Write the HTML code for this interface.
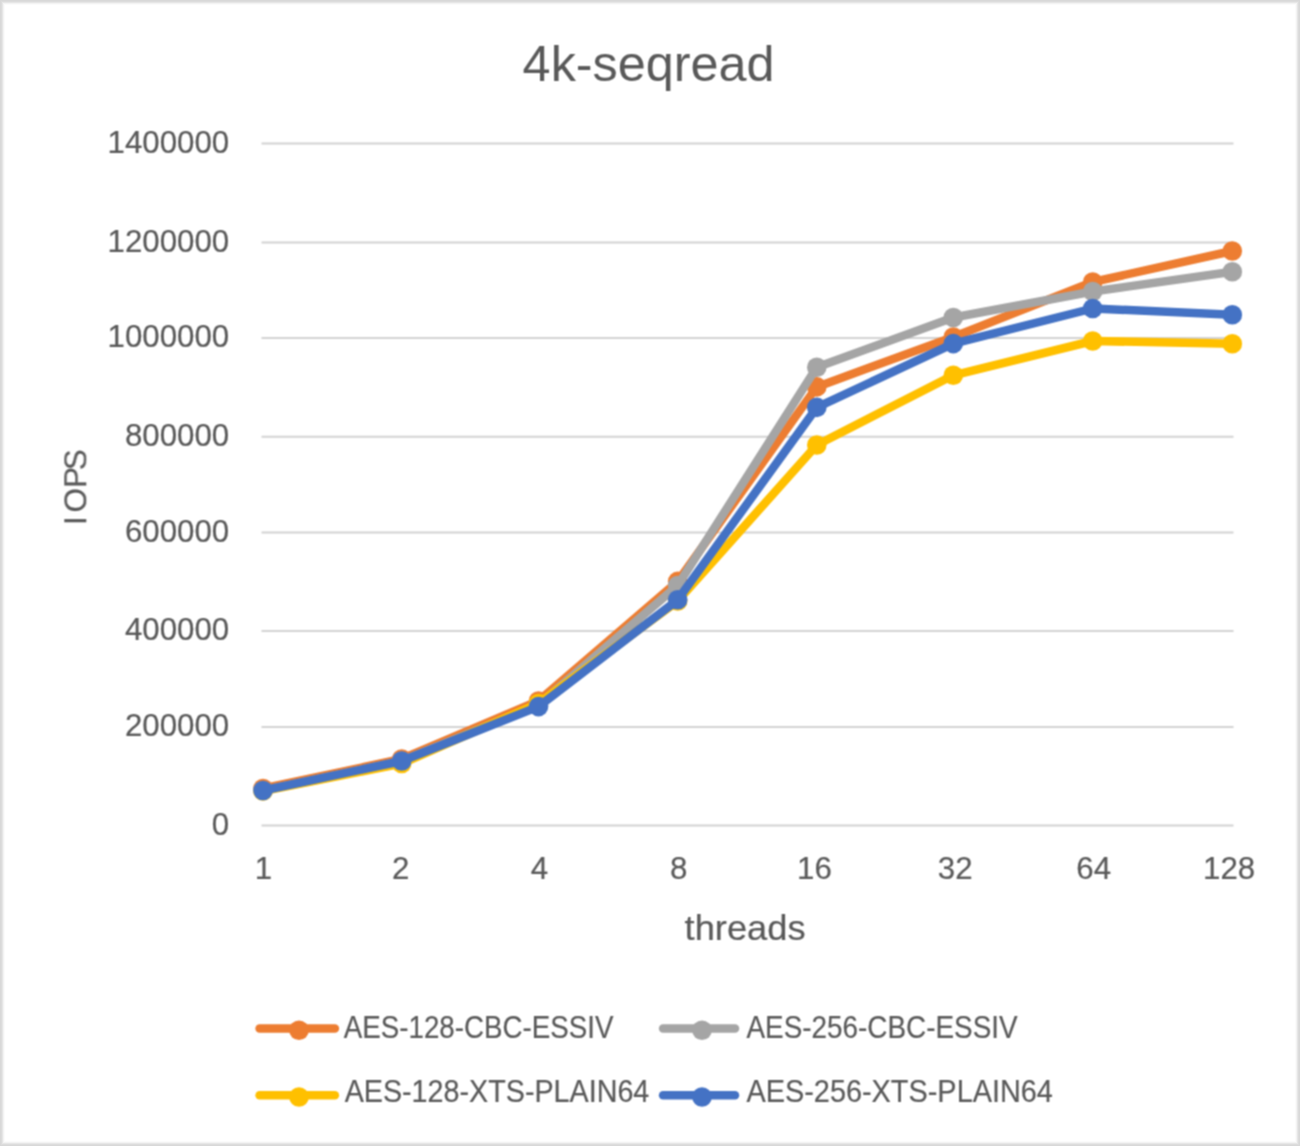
<!DOCTYPE html><html><head><meta charset="utf-8"><title>4k-seqread</title><style>
html,body{margin:0;padding:0;background:#fff;}
body{width:1300px;height:1146px;overflow:hidden;position:relative;}
.frame{position:absolute;left:0;top:0;width:1300px;height:1146px;box-sizing:border-box;box-shadow:inset 0 0 0 1px #d8d8d8,inset 0 0 0 2px #dcdcdc,inset 0 0 0 3px #e6e6e6,inset 0 0 0 4px #f3f3f3,inset 0 0 0 5px #fbfbfb;}
svg{position:absolute;left:0;top:0;}
text{font-family:"Liberation Sans", Arial, sans-serif;fill:#595959;stroke:#595959;stroke-width:0.2px;}
</style></head><body>
<svg width="1300" height="1146" viewBox="0 0 1300 1146">
<defs><filter id="soft" x="0" y="0" width="1300" height="1146" filterUnits="userSpaceOnUse" color-interpolation-filters="sRGB"><feConvolveMatrix order="3" kernelMatrix="1 2 1 2 4 2 1 2 1" divisor="16" edgeMode="none" preserveAlpha="false"/></filter></defs>
<g filter="url(#soft)">
<line x1="261.5" y1="143.6" x2="1233.5" y2="143.6" stroke="#d2d2d2" stroke-width="2"/>
<line x1="261.5" y1="242.5" x2="1233.5" y2="242.5" stroke="#d2d2d2" stroke-width="2"/>
<line x1="261.5" y1="338.1" x2="1233.5" y2="338.1" stroke="#d2d2d2" stroke-width="2"/>
<line x1="261.5" y1="436.7" x2="1233.5" y2="436.7" stroke="#d2d2d2" stroke-width="2"/>
<line x1="261.5" y1="532.5" x2="1233.5" y2="532.5" stroke="#d2d2d2" stroke-width="2"/>
<line x1="261.5" y1="631.1" x2="1233.5" y2="631.1" stroke="#d2d2d2" stroke-width="2"/>
<line x1="261.5" y1="726.9" x2="1233.5" y2="726.9" stroke="#d2d2d2" stroke-width="2"/>
<line x1="261.5" y1="825.5" x2="1233.5" y2="825.5" stroke="#d2d2d2" stroke-width="2"/>
<text x="522.64" y="80.80" font-size="49.50" textLength="251.90" lengthAdjust="spacingAndGlyphs" style="stroke-width:0;fill:#595959">4k-seqread</text>
<text x="107.52" y="152.80" font-size="32" textLength="121.70" lengthAdjust="spacingAndGlyphs">1400000</text>
<text x="107.52" y="251.70" font-size="32" textLength="121.70" lengthAdjust="spacingAndGlyphs">1200000</text>
<text x="107.52" y="347.30" font-size="32" textLength="121.70" lengthAdjust="spacingAndGlyphs">1000000</text>
<text x="124.90" y="445.90" font-size="32" textLength="104.32" lengthAdjust="spacingAndGlyphs">800000</text>
<text x="124.90" y="541.70" font-size="32" textLength="104.32" lengthAdjust="spacingAndGlyphs">600000</text>
<text x="124.90" y="640.30" font-size="32" textLength="104.32" lengthAdjust="spacingAndGlyphs">400000</text>
<text x="124.90" y="736.10" font-size="32" textLength="104.32" lengthAdjust="spacingAndGlyphs">200000</text>
<text x="211.84" y="834.70" font-size="32" textLength="17.39" lengthAdjust="spacingAndGlyphs">0</text>
<text x="254.78" y="879" font-size="32" textLength="17.39" lengthAdjust="spacingAndGlyphs">1</text>
<text x="392.01" y="879" font-size="32" textLength="17.39" lengthAdjust="spacingAndGlyphs">2</text>
<text x="530.81" y="879" font-size="32" textLength="17.39" lengthAdjust="spacingAndGlyphs">4</text>
<text x="670.11" y="879" font-size="32" textLength="17.39" lengthAdjust="spacingAndGlyphs">8</text>
<text x="797.11" y="879" font-size="32" textLength="34.77" lengthAdjust="spacingAndGlyphs">16</text>
<text x="937.80" y="879" font-size="32" textLength="34.77" lengthAdjust="spacingAndGlyphs">32</text>
<text x="1076.28" y="879" font-size="32" textLength="34.77" lengthAdjust="spacingAndGlyphs">64</text>
<text x="1203.01" y="879" font-size="32" textLength="52.16" lengthAdjust="spacingAndGlyphs">128</text>
<text x="684.55" y="939.80" font-size="35.60" textLength="121.06" lengthAdjust="spacingAndGlyphs">threads</text>
<text transform="translate(86.3,530.00) rotate(-90)" x="5.12 17.56 41.93 59.80" y="0" font-size="31.5">IOPS</text>
<polyline points="263.0,788.5 401.7,759.0 538.5,701.0 677.7,581.4 816.8,386.9 953.3,337.0 1092.7,282.0 1232.3,251.0" fill="none" stroke="#ED7D31" stroke-width="8.5" stroke-linejoin="round" stroke-linecap="round"/>
<circle cx="263.0" cy="788.5" r="9.8" fill="#ED7D31"/>
<circle cx="401.7" cy="759.0" r="9.8" fill="#ED7D31"/>
<circle cx="538.5" cy="701.0" r="9.8" fill="#ED7D31"/>
<circle cx="677.7" cy="581.4" r="9.8" fill="#ED7D31"/>
<circle cx="816.8" cy="386.9" r="9.8" fill="#ED7D31"/>
<circle cx="953.3" cy="337.0" r="9.8" fill="#ED7D31"/>
<circle cx="1092.7" cy="282.0" r="9.8" fill="#ED7D31"/>
<circle cx="1232.3" cy="251.0" r="9.8" fill="#ED7D31"/>
<polyline points="263.0,790.5 401.7,761.0 538.5,705.0 677.7,585.5 816.8,367.2 953.3,317.5 1092.7,291.5 1232.3,271.7" fill="none" stroke="#A5A5A5" stroke-width="8.5" stroke-linejoin="round" stroke-linecap="round"/>
<circle cx="263.0" cy="790.5" r="9.8" fill="#A5A5A5"/>
<circle cx="401.7" cy="761.0" r="9.8" fill="#A5A5A5"/>
<circle cx="538.5" cy="705.0" r="9.8" fill="#A5A5A5"/>
<circle cx="677.7" cy="585.5" r="9.8" fill="#A5A5A5"/>
<circle cx="816.8" cy="367.2" r="9.8" fill="#A5A5A5"/>
<circle cx="953.3" cy="317.5" r="9.8" fill="#A5A5A5"/>
<circle cx="1092.7" cy="291.5" r="9.8" fill="#A5A5A5"/>
<circle cx="1232.3" cy="271.7" r="9.8" fill="#A5A5A5"/>
<polyline points="263.0,791.0 401.7,763.5 538.5,703.5 677.7,601.0 816.8,445.0 953.3,375.3 1092.7,341.0 1232.3,343.7" fill="none" stroke="#FFC000" stroke-width="8.5" stroke-linejoin="round" stroke-linecap="round"/>
<circle cx="263.0" cy="791.0" r="9.8" fill="#FFC000"/>
<circle cx="401.7" cy="763.5" r="9.8" fill="#FFC000"/>
<circle cx="538.5" cy="703.5" r="9.8" fill="#FFC000"/>
<circle cx="677.7" cy="601.0" r="9.8" fill="#FFC000"/>
<circle cx="816.8" cy="445.0" r="9.8" fill="#FFC000"/>
<circle cx="953.3" cy="375.3" r="9.8" fill="#FFC000"/>
<circle cx="1092.7" cy="341.0" r="9.8" fill="#FFC000"/>
<circle cx="1232.3" cy="343.7" r="9.8" fill="#FFC000"/>
<polyline points="263.0,790.5 401.7,761.0 538.5,706.6 677.7,599.8 816.8,407.4 953.3,343.6 1092.7,308.5 1232.3,314.8" fill="none" stroke="#4472C4" stroke-width="8.5" stroke-linejoin="round" stroke-linecap="round"/>
<circle cx="263.0" cy="790.5" r="9.8" fill="#4472C4"/>
<circle cx="401.7" cy="761.0" r="9.8" fill="#4472C4"/>
<circle cx="538.5" cy="706.6" r="9.8" fill="#4472C4"/>
<circle cx="677.7" cy="599.8" r="9.8" fill="#4472C4"/>
<circle cx="816.8" cy="407.4" r="9.8" fill="#4472C4"/>
<circle cx="953.3" cy="343.6" r="9.8" fill="#4472C4"/>
<circle cx="1092.7" cy="308.5" r="9.8" fill="#4472C4"/>
<circle cx="1232.3" cy="314.8" r="9.8" fill="#4472C4"/>
<line x1="259.6" y1="1028.4" x2="334.9" y2="1028.4" stroke="#ED7D31" stroke-width="8.5" stroke-linecap="round"/>
<circle cx="299.0" cy="1030.2" r="9.8" fill="#ED7D31"/>
<text x="343.75" y="1038.00" font-size="31.50" textLength="269.68" lengthAdjust="spacingAndGlyphs">AES-128-CBC-ESSIV</text>
<line x1="663.1" y1="1028.4" x2="735.0" y2="1028.4" stroke="#A5A5A5" stroke-width="8.5" stroke-linecap="round"/>
<circle cx="702.0" cy="1030.2" r="9.8" fill="#A5A5A5"/>
<text x="746.45" y="1038.00" font-size="31.50" textLength="271.18" lengthAdjust="spacingAndGlyphs">AES-256-CBC-ESSIV</text>
<line x1="259.6" y1="1095.2" x2="334.9" y2="1095.2" stroke="#FFC000" stroke-width="8.5" stroke-linecap="round"/>
<circle cx="299.0" cy="1097.0" r="9.8" fill="#FFC000"/>
<text x="344.64" y="1102.30" font-size="31.50" textLength="304.70" lengthAdjust="spacingAndGlyphs">AES-128-XTS-PLAIN64</text>
<line x1="663.1" y1="1095.2" x2="735.0" y2="1095.2" stroke="#4472C4" stroke-width="8.5" stroke-linecap="round"/>
<circle cx="702.0" cy="1097.0" r="9.8" fill="#4472C4"/>
<text x="746.44" y="1102.30" font-size="31.50" textLength="306.50" lengthAdjust="spacingAndGlyphs">AES-256-XTS-PLAIN64</text>
</g>
</svg>
<div class="frame"></div>
</body></html>
